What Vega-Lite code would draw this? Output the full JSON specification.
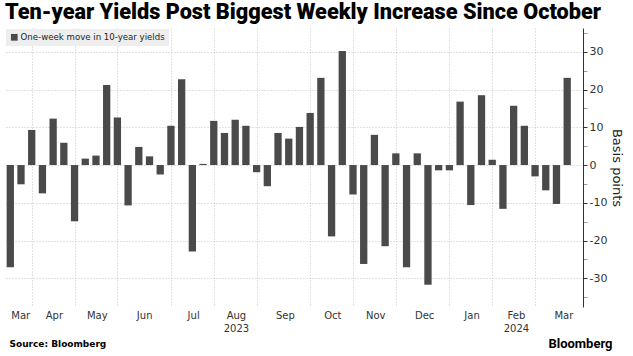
{
  "$schema": "https://vega.github.io/schema/vega-lite/v6.json",
  "width": 578,
  "height": 279,
  "autosize": {"type": "none"},
  "padding": {"left": 5, "top": 28, "right": 50, "bottom": 49},
  "background": "white",
  "title": {
    "text": "Ten-year Yields Post Biggest Weekly Increase Since October",
    "anchor": "start",
    "frame": "group",
    "font": "Roboto",
    "fontWeight": 900,
    "fontSize": 21.7,
    "color": "#000000",
    "offset": 3
  },
  "config": {"view": {"stroke": null}, "font": "DejaVu Sans"},
  "data": {
    "values": [
      {"date": "2023-03-17", "move": -27.1},
      {"date": "2023-03-24", "move": -5.1},
      {"date": "2023-03-31", "move": 9.3},
      {"date": "2023-04-07", "move": -7.5},
      {"date": "2023-04-14", "move": 12.3},
      {"date": "2023-04-21", "move": 5.9},
      {"date": "2023-04-28", "move": -14.9},
      {"date": "2023-05-05", "move": 1.7},
      {"date": "2023-05-12", "move": 2.5},
      {"date": "2023-05-19", "move": 21.2},
      {"date": "2023-05-26", "move": 12.6},
      {"date": "2023-06-02", "move": -10.7},
      {"date": "2023-06-09", "move": 4.8},
      {"date": "2023-06-16", "move": 2.3},
      {"date": "2023-06-23", "move": -2.5},
      {"date": "2023-06-30", "move": 10.4},
      {"date": "2023-07-07", "move": 22.7},
      {"date": "2023-07-14", "move": -22.9},
      {"date": "2023-07-21", "move": 0.3},
      {"date": "2023-07-28", "move": 11.7},
      {"date": "2023-08-04", "move": 8.5},
      {"date": "2023-08-11", "move": 12.0},
      {"date": "2023-08-18", "move": 10.4},
      {"date": "2023-08-25", "move": -1.9},
      {"date": "2023-09-01", "move": -5.6},
      {"date": "2023-09-08", "move": 8.5},
      {"date": "2023-09-15", "move": 7.0},
      {"date": "2023-09-22", "move": 10.1},
      {"date": "2023-09-29", "move": 13.8},
      {"date": "2023-10-06", "move": 23.1},
      {"date": "2023-10-13", "move": -18.9},
      {"date": "2023-10-20", "move": 30.2},
      {"date": "2023-10-27", "move": -7.8},
      {"date": "2023-11-03", "move": -26.2},
      {"date": "2023-11-10", "move": 8.0},
      {"date": "2023-11-17", "move": -21.5},
      {"date": "2023-11-24", "move": 3.1},
      {"date": "2023-12-01", "move": -27.1},
      {"date": "2023-12-08", "move": 3.1},
      {"date": "2023-12-15", "move": -31.7},
      {"date": "2023-12-22", "move": -1.4},
      {"date": "2023-12-29", "move": -1.4},
      {"date": "2024-01-05", "move": 16.8},
      {"date": "2024-01-12", "move": -10.6},
      {"date": "2024-01-19", "move": 18.5},
      {"date": "2024-01-26", "move": 1.4},
      {"date": "2024-02-02", "move": -11.6},
      {"date": "2024-02-09", "move": 15.7},
      {"date": "2024-02-16", "move": 10.4},
      {"date": "2024-02-23", "move": -3.0},
      {"date": "2024-03-01", "move": -6.7},
      {"date": "2024-03-08", "move": -10.3},
      {"date": "2024-03-15", "move": 23.1}
    ]
  },
  "layer": [
    {
      "mark": {"type": "bar", "size": 7.3},
      "encoding": {
        "x": {
          "field": "date",
          "type": "temporal",
          "scale": {
            "domain": [
              {"year": 2023, "month": 3, "date": 13, "hours": 13},
              {"year": 2024, "month": 3, "date": 25, "hours": 8}
            ],
            "padding": 0,
            "nice": false
          },
          "axis": {
            "values": [
              {"year": 2023, "month": 3, "date": 31},
              {"year": 2023, "month": 4, "date": 28},
              {"year": 2023, "month": 5, "date": 26},
              {"year": 2023, "month": 6, "date": 30},
              {"year": 2023, "month": 7, "date": 28},
              {"year": 2023, "month": 8, "date": 25},
              {"year": 2023, "month": 9, "date": 29},
              {"year": 2023, "month": 10, "date": 27},
              {"year": 2023, "month": 11, "date": 24},
              {"year": 2023, "month": 12, "date": 29},
              {"year": 2024, "month": 1, "date": 26},
              {"year": 2024, "month": 2, "date": 23},
              {"year": 2023, "month": 3, "date": 23, "hours": 12},
              {"year": 2023, "month": 4, "date": 14, "hours": 12},
              {"year": 2023, "month": 5, "date": 12, "hours": 12},
              {"year": 2023, "month": 6, "date": 12, "hours": 12},
              {"year": 2023, "month": 7, "date": 14, "hours": 12},
              {"year": 2023, "month": 8, "date": 11, "hours": 12},
              {"year": 2023, "month": 9, "date": 12, "hours": 12},
              {"year": 2023, "month": 10, "date": 13, "hours": 12},
              {"year": 2023, "month": 11, "date": 10, "hours": 12},
              {"year": 2023, "month": 12, "date": 12, "hours": 12},
              {"year": 2024, "month": 1, "date": 12, "hours": 12},
              {"year": 2024, "month": 2, "date": 10, "hours": 12},
              {"year": 2024, "month": 3, "date": 12, "hours": 12}
            ],
            "domain": false,
            "ticks": false,
            "grid": true,
            "gridColor": "#c4c4c4",
            "gridDash": [1, 2],
            "gridOpacity": {"condition": {"test": "hours(datum.value) == 12", "value": 0}, "value": 1},
            "labelExpr": "hours(datum.value) != 12 ? '' : (month(datum.value) == 7 ? ['Aug', '2023'] : (month(datum.value) == 1 && year(datum.value) == 2024 ? ['Feb', '2024'] : timeFormat(datum.value, '%b')))",
            "labelFontSize": 10,
            "labelColor": "#333333",
            "labelPadding": 3,
            "labelOverlap": false,
            "labelFlush": false,
            "labelBound": false,
            "labelLineHeight": 13,
            "title": "Source: Bloomberg",
            "titleFont": "DejaVu Sans",
            "titleFontWeight": "bold",
            "titleFontSize": 9,
            "titleColor": "#000000",
            "titleAnchor": "start",
            "titleAlign": "left",
            "titleBaseline": "middle",
            "titleX": 4,
            "titleY": 36
          }
        },
        "y": {
          "field": "move",
          "type": "quantitative",
          "scale": {"domain": [-37.6, 36.3], "nice": false, "zero": false},
          "axis": {
            "orient": "right",
            "values": [-35, -30, -25, -20, -15, -10, -5, 0, 5, 10, 15, 20, 25, 30, 35],
            "domain": true,
            "domainColor": "#333333",
            "tickSize": 4,
            "tickColor": {"condition": {"test": "datum.value % 10 != 0", "value": "#9a9a9a"}, "value": "#333333"},
            "grid": true,
            "gridColor": "#c4c4c4",
            "gridDash": [1, 2],
            "gridOpacity": {"condition": {"test": "datum.value % 10 != 0", "value": 0}, "value": 1},
            "labelExpr": "datum.value % 10 == 0 ? toString(datum.value) : ''",
            "labelFontSize": 11,
            "labelColor": "#333333",
            "labelPadding": 2,
            "labelFlush": false,
            "labelOverlap": false,
            "title": "Basis points",
            "titleAngle": 90,
            "titleFontSize": 13,
            "titleFontWeight": "normal",
            "titleColor": "#222222",
            "titlePadding": 3
          }
        },
        "color": {
          "datum": "One-week move in 10-year yields",
          "type": "nominal",
          "scale": {"range": ["#4a4a4a"]},
          "legend": {
            "title": null,
            "orient": "top-left",
            "offset": 1,
            "fillColor": "#eeeeee",
            "padding": 4,
            "symbolType": "square",
            "symbolSize": 45,
            "symbolStrokeWidth": 0,
            "labelFontSize": 8.6,
            "labelColor": "#222222",
            "labelOffset": 2
          }
        }
      }
    },
    {
      "mark": {"type": "rule", "opacity": 0},
      "encoding": {
        "x": {
          "datum": {"year": 2024, "month": 3, "date": 15},
          "type": "temporal",
          "axis": {
            "orient": "bottom",
            "values": [],
            "labels": false,
            "ticks": false,
            "domain": false,
            "grid": false,
            "title": "Bloomberg",
            "titleFont": "Roboto",
            "titleFontWeight": 700,
            "titleFontSize": 13,
            "titleColor": "#000000",
            "titleAnchor": "end",
            "titleAlign": "right",
            "titleBaseline": "middle",
            "titleX": 607,
            "titleY": 36
          }
        }
      }
    }
  ],
  "resolve": {"axis": {"x": "independent"}}
}
